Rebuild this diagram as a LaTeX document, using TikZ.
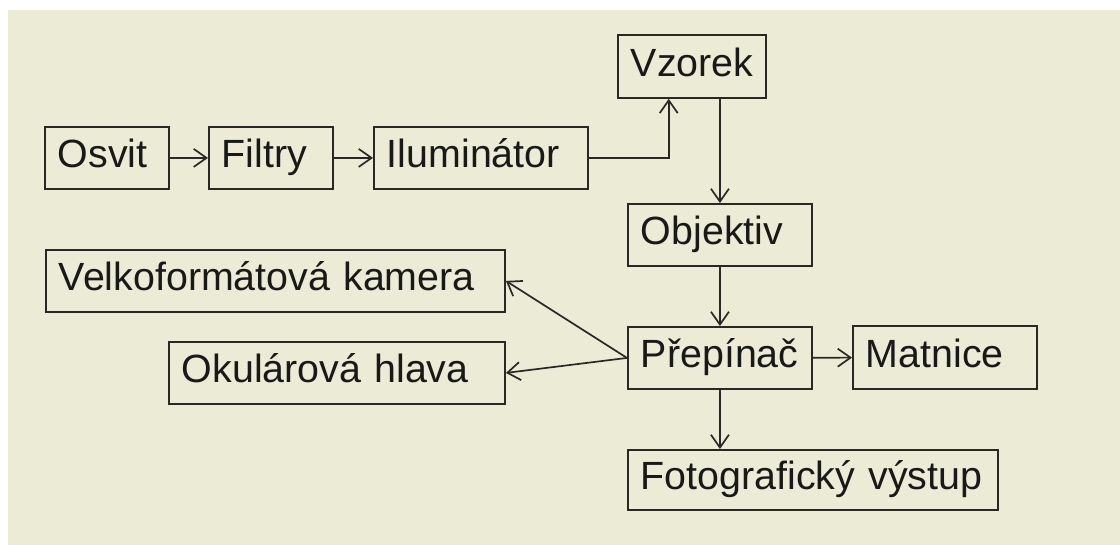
\documentclass[tikz,border=0pt]{standalone}
\usepackage{fontspec}
\setmainfont{Liberation Sans}
\usepackage{tikz}
\usetikzlibrary{calc,arrows.meta}
\definecolor{pozadi}{RGB}{236,235,213}
\definecolor{cara}{RGB}{40,40,36}
\tikzset{
  blok/.style={draw=cara, line width=1.3pt, anchor=north west, align=left,
    inner xsep=0.325cm, inner ysep=0pt, minimum height=1.55cm,
    text height=0.7cm, text depth=0.2cm,
    font=\fontsize{28}{32}\selectfont, text=black!90},
  pijl/.style={draw=cara, line width=1.2pt, -{Straight Barb[length=3.2mm,width=4.5mm]}}
}
\begin{document}
\begin{tikzpicture}[x=0.025cm,y=-0.025cm]
\useasboundingbox (0,0) rectangle (1120,545);
\fill[pozadi] (8,10) rectangle (1120,545);

\node[blok, text width=2.45cm] (osvit) at (44,126) {Osvit};
\node[blok, text width=2.45cm] (filtry) at (208,126) {Filtry};
\node[blok, text width=4.7cm] (ilum) at (373,126) {Iluminátor};
\node[blok, text width=3.05cm, minimum height=1.575cm] (vzorek) at (617,34) {Vzorek};
\node[blok, text width=3.95cm] (objektiv) at (627,203) {Objektiv};
\node[blok, text width=3.95cm] (prepinac) at (627,326) {Přepínač};
\node[blok, text width=3.95cm, minimum height=1.575cm] (matnice) at (852,325) {Matnice};
\node[blok, text width=10.825cm] (velko) at (45,249) {Velkoformátová kamera};
\node[blok, text width=7.75cm] (okular) at (168,341) {Okulárová hlava};
\node[blok, text width=8.6cm, minimum height=1.5cm] (foto) at (627,449) {Fotografický výstup};

\draw[pijl] (osvit) -- (filtry);
\draw[pijl] (filtry) -- (ilum);
\draw[pijl] (ilum.east) -| ($(vzorek.south west)!0.345!(vzorek.south east)$);
\draw[pijl] (vzorek.south -| objektiv.north) -- (objektiv.north);
\draw[pijl] (objektiv) -- (prepinac);
\draw[pijl] (prepinac) -- (matnice);
\draw[pijl] (prepinac.south) -- (prepinac.south |- foto.north);
\draw[pijl] (prepinac.west) -- (velko.east);
\draw[pijl] (prepinac.west) -- (okular.east);

\end{tikzpicture}
\end{document}
